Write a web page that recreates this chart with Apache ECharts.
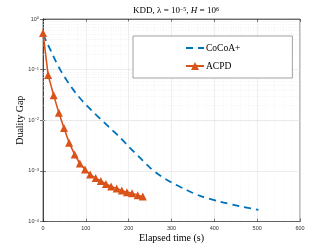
<!DOCTYPE html>
<html>
<head>
<meta charset="utf-8">
<script src="https://cdn.jsdelivr.net/npm/echarts@6/dist/echarts.min.js"></script>
<style>html,body{margin:0;padding:0;background:#fff}#c{width:332px;height:249px}</style>
</head>
<body>
<div id="c"></div>
<script>
const titleText = 'KDD, λ = 10{s|−5}, {i|H} = 10{s|6}';
const xLabel = 'Elapsed time (s)';
const yLabel = 'Duality Gap';
const seriesNames = ['CoCoA+', 'ACPD'];
const xTicks = [0, 100, 200, 300, 400, 500, 600];
const yTicks = [1e-4, 1e-3, 1e-2, 1e-1, 1];

const cocoaTime = [0, 10, 20, 30, 40, 50, 60, 70, 80, 90, 100, 120, 140, 160, 180, 200, 225, 250, 275, 300, 335, 367, 414, 460, 503];
const cocoaGap  = [0.50, 0.331, 0.219, 0.145, 0.100, 0.0724, 0.0537, 0.0407, 0.0316, 0.0251, 0.0204, 0.0138, 0.00955, 0.0066, 0.00457, 0.00302, 0.00186, 0.00115, 0.00079, 0.00059, 0.00042, 0.00032, 0.000245, 0.00020, 0.00017];

const acpdTime = [0, 12, 25, 37, 49, 61, 74, 86, 98, 110, 123, 135, 147, 159, 172, 184, 196, 208, 221, 233];
const acpdGap  = [0.53, 0.078, 0.031, 0.014, 0.0070, 0.0036, 0.0021, 0.0014, 0.00107, 0.00085, 0.00072, 0.00063, 0.00055, 0.00049, 0.00045, 0.00041, 0.00038, 0.00036, 0.00033, 0.00031];

// minor log gridline positions (2..9 x 10^k)
const minorY = [];
for (let k = -4; k < 0; k++) for (let m = 2; m <= 9; m++) minorY.push(m * Math.pow(10, k));

const chart = echarts.init(document.getElementById('c'), null, {renderer: 'canvas'});
const axisColor = '#262626';
const serif = '"Liberation Serif", "DejaVu Serif", serif';
const sans = '"Liberation Sans", "DejaVu Sans", sans-serif';

chart.setOption({
  animation: false,
  backgroundColor: '#fff',
  title: {
    text: titleText, left: 171, top: 1, textAlign: 'center',
    textStyle: {fontFamily: serif, fontSize: 9, fontWeight: 'normal', color: '#000',
      rich: {s: {fontSize: 6, verticalAlign: 'top', lineHeight: 7, fontFamily: serif},
             i: {fontStyle: 'italic', fontSize: 9, fontFamily: serif}}}
  },
  grid: {left: 43, right: 32, top: 19, bottom: 27.5, show: true, borderColor: axisColor, borderWidth: 0.6, backgroundColor: 'transparent'},
  legend: {
    orient: 'vertical', left: 133, top: 36,
    padding: [7, 52, 7, 52], itemGap: 8, itemWidth: 18, itemHeight: 10,
    backgroundColor: '#fff', borderColor: '#8c8c8c', borderWidth: 0.8,
    textStyle: {fontFamily: serif, fontSize: 9.5, color: '#000', padding: [0, 0, 0, -3]},
    data: [{name: seriesNames[0], itemStyle: {opacity: 0}}, {name: seriesNames[1]}]
  },
  xAxis: [{
    type: 'value', min: 0, max: 600, interval: 100,
    name: xLabel, nameLocation: 'middle', nameGap: 12, nameMoveOverlap: false,
    nameTextStyle: {fontFamily: serif, fontSize: 10, color: '#000'},
    axisLine: {show: true, lineStyle: {color: axisColor, width: 0.6}},
    axisTick: {show: true, inside: true, length: 3, lineStyle: {color: axisColor, width: 0.6}},
    axisLabel: {fontFamily: sans, fontSize: 5.5, color: '#333', margin: 4,
      formatter: v => xTicks.includes(v) ? String(v) : ''},
    splitLine: {show: true, lineStyle: {color: '#e3e3e3', width: 0.6}},
    minorTick: {show: false, splitNumber: 5},
    minorSplitLine: {show: true, lineStyle: {color: '#ececec', width: 0.5, type: [1, 1.5]}}
  }, {
    type: 'value', min: 0, max: 600, interval: 100, position: 'top',
    axisLine: {show: true, lineStyle: {color: axisColor, width: 0.6}},
    axisTick: {show: true, inside: true, length: 3, lineStyle: {color: axisColor, width: 0.6}},
    axisLabel: {show: false}, splitLine: {show: false}
  }],
  yAxis: [{
    type: 'log', logBase: 10, min: 1e-4, max: 1,
    name: yLabel, nameLocation: 'middle', nameGap: 18, nameRotate: 90, nameMoveOverlap: false,
    nameTextStyle: {fontFamily: serif, fontSize: 10, color: '#000'},
    axisLine: {show: true, lineStyle: {color: axisColor, width: 0.6}},
    axisTick: {show: true, inside: true, length: 3, lineStyle: {color: axisColor, width: 0.6}},
    axisLabel: {fontFamily: sans, fontSize: 5.5, color: '#333', margin: 4,
      formatter: v => {
        const e = Math.round(Math.log10(v));
        return '10{s|' + (e < 0 ? '−' + (-e) : e) + '}';
      },
      rich: {s: {fontSize: 4, verticalAlign: 'top', lineHeight: 5, fontFamily: sans, color: '#333'}}},
    splitLine: {show: true, lineStyle: {color: '#e3e3e3', width: 0.6}}
  }, {
    type: 'log', logBase: 10, min: 1e-4, max: 1, position: 'right',
    axisLine: {show: true, lineStyle: {color: axisColor, width: 0.6}},
    axisTick: {show: true, inside: true, length: 3, lineStyle: {color: axisColor, width: 0.6}},
    axisLabel: {show: false}, splitLine: {show: false}
  }],
  series: [{
    name: seriesNames[0], type: 'line', xAxisIndex: 0, yAxisIndex: 0,
    data: cocoaTime.map((t, i) => [t, cocoaGap[i]]),
    showSymbol: false, symbol: 'none', smooth: 0.3, z: 3,
    lineStyle: {color: '#0072BD', width: 1.8, type: [7, 5]},
    itemStyle: {color: '#0072BD'},
    markLine: {
      silent: true, symbol: ['none', 'none'], label: {show: false},
      lineStyle: {color: '#e6e6e6', width: 0.5, type: [1, 1.5]},
      data: minorY.map(v => ({yAxis: v})), z: 1
    }
  }, {
    name: seriesNames[1], type: 'line', xAxisIndex: 0, yAxisIndex: 0,
    data: acpdTime.map((t, i) => [t, acpdGap[i]]),
    symbol: 'triangle', symbolSize: 8, showSymbol: true, z: 4,
    lineStyle: {color: '#D95319', width: 1.6},
    itemStyle: {color: '#D95319'}
  }]
});
</script>
</body>
</html>
